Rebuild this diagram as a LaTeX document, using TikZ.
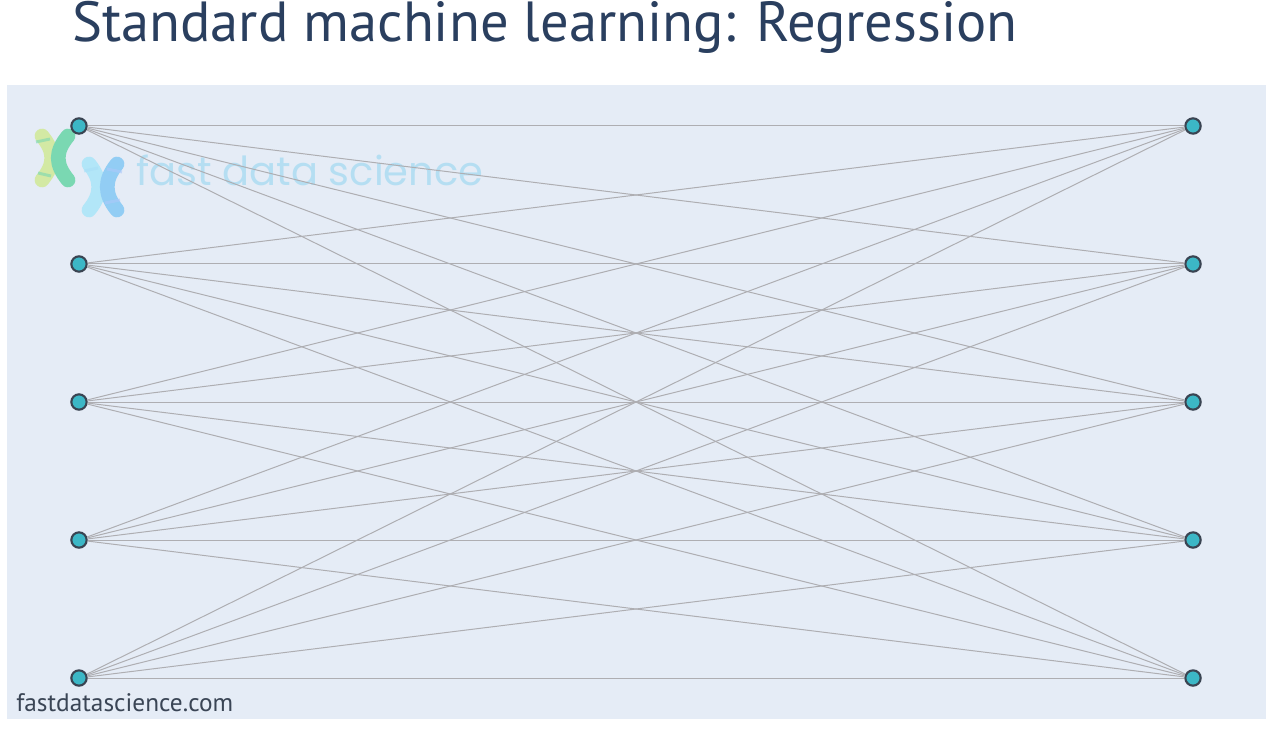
\documentclass[tikz,border=0pt]{standalone}
\usepackage{fontspec}
\setmainfont{PT Sans}
\newfontfamily\logofont{Poppins}
\definecolor{bgc}{HTML}{E5ECF6}
\definecolor{titlec}{HTML}{2A3F5F}
\definecolor{edgec}{HTML}{AEAEB2}
\definecolor{nodefill}{HTML}{3CB7C6}
\definecolor{nodeline}{HTML}{3A4452}
\definecolor{footc}{HTML}{3A4555}
\definecolor{logotext}{HTML}{A9DBF2}
\definecolor{lgA}{HTML}{D3E9A4}
\definecolor{lgB}{HTML}{7AD8B2}
\definecolor{lgC}{HTML}{B2E6F8}
\definecolor{lgD}{HTML}{92CDF4}
\tikzset{
  neuron/.style={circle, fill=nodefill, draw=nodeline, line width=1.6pt, minimum size=11.5pt, inner sep=0pt},
  edge/.style={draw=edgec, line width=0.75pt},
  logostroke/.style={line width=11pt, line cap=round},
  band/.style={line width=2.2pt, opacity=0.6}
}
\begin{document}
\begin{tikzpicture}[x=0.75pt,y=-0.75pt]
\useasboundingbox (0,0) rectangle (1280,748);
\fill[white] (0,0) rectangle (1280,748);
\fill[bgc] (7,85) rectangle (1266,719);
% title
\node[anchor=base west, inner sep=0pt, text=titlec, font=\fontsize{42.4}{50}\selectfont] (title) at (72,42) {Standard machine learning: Regression};
% logo watermark
\draw[logostroke, lgA] (42,136) .. controls (55,152) and (55,164) .. (42,180);
\draw[logostroke, lgB] (68,136) .. controls (55,152) and (55,164) .. (68,180);
\draw[logostroke, lgC] (89,164) .. controls (102,180) and (102,194) .. (89,210);
\draw[logostroke, lgD] (117,164) .. controls (104,180) and (104,194) .. (117,210);
\draw[band, lgB] (36,142) -- (50,139);
\draw[band, lgB] (38,173) -- (51,176);
\draw[band, lgC!70!lgD] (84,171) -- (98,168);
\draw[band, lgD!80!blue!60] (107,169) -- (122,172);
\draw[band, lgD!80!blue!60] (105,203) -- (120,200);
\node[anchor=base west, inner sep=0pt, text=logotext, opacity=0.8, font=\logofont\fontsize{30}{34}\selectfont] (logo) at (136,186) {fast data science};
% nodes
\foreach \i/\y in {1/126,2/264,3/402,4/540,5/678}{
  \node[neuron] (L\i) at (79,\y) {};
  \node[neuron] (R\i) at (1193,\y) {};
}
\foreach \i in {1,...,5}{
  \foreach \j in {1,...,5}{
    \draw[edge] (L\i) -- (R\j);
  }
}
% footer
\node[anchor=base west, inner sep=0pt, text=footc, font=\fontsize{19}{22}\selectfont] (foot) at (16,711) {fastdatascience.com};
\end{tikzpicture}
\end{document}
